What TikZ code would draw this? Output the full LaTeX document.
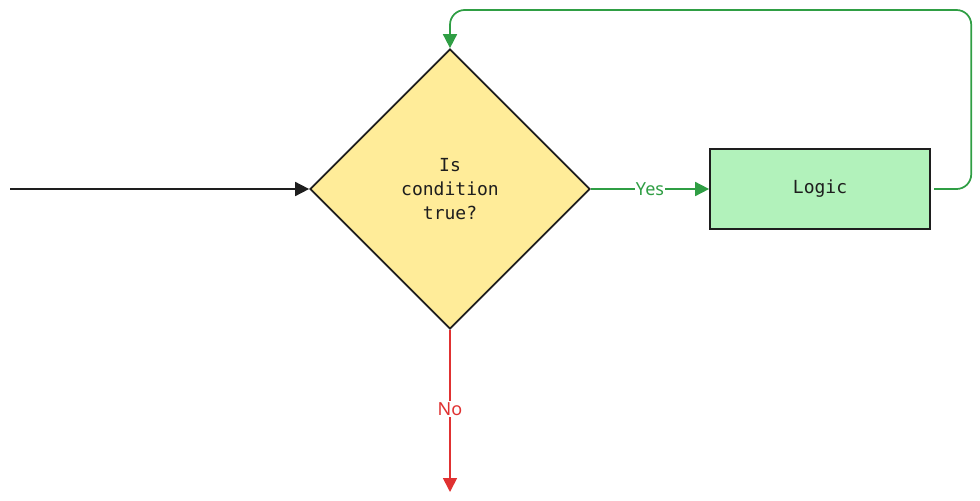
\documentclass[tikz,border=0pt]{standalone}
\usepackage{fontspec}
\setmonofont{DejaVu Sans Mono}
\newfontfamily\labelfont{Noto Sans}
\usetikzlibrary{arrows.meta,positioning,shapes.geometric}
\definecolor{myink}{HTML}{1E1E1E}
\definecolor{mygreen}{HTML}{2F9E44}
\definecolor{myred}{HTML}{E03131}
\definecolor{myyellow}{HTML}{FFEC99}
\definecolor{mylightgreen}{HTML}{B2F2BB}
\tikzset{
  box/.style={draw=myink, line width=1.3pt, align=center, inner sep=0pt,
              font=\fontsize{13.5}{18}\selectfont\ttfamily, text=myink},
  decisionbox/.style={box, diamond, fill=myyellow, minimum width=210pt, minimum height=210pt},
  logicbox/.style={box, rectangle, fill=mylightgreen, minimum width=165pt, minimum height=60pt},
  arr/.style={-{Triangle[length=10.5pt,width=10.5pt]}, line width=1.3pt},
  lab/.style={font=\fontsize{13.5}{16}\selectfont\labelfont, fill=white, inner sep=1pt},
}
\begin{document}
\begin{tikzpicture}[x=0.75pt, y=-0.75pt]
    \useasboundingbox (0,0) rectangle (980,500);
    \node[decisionbox] (cond) at (450,189) {Is\\condition\\true?};
    \node[logicbox] (logic) at (820,189) {Logic};
    \coordinate (start) at (10,189);
    \coordinate (noend) at (450,492);
    \coordinate (looptop) at (450,10);
    \draw[arr, myink] (start) -- (cond.west);
    \draw[arr, mygreen] (cond.east) -- node[lab, text=mygreen] {Yes} (logic.west);
    \draw[arr, mygreen, rounded corners=11pt] ([xshift=2.5pt]logic.east) -- ++(37,0) |- (looptop) -- (cond.north);
    \draw[arr, myred] (cond.south) -- node[lab, text=myred, pos=0.49] {No} (noend);
\end{tikzpicture}
\end{document}
